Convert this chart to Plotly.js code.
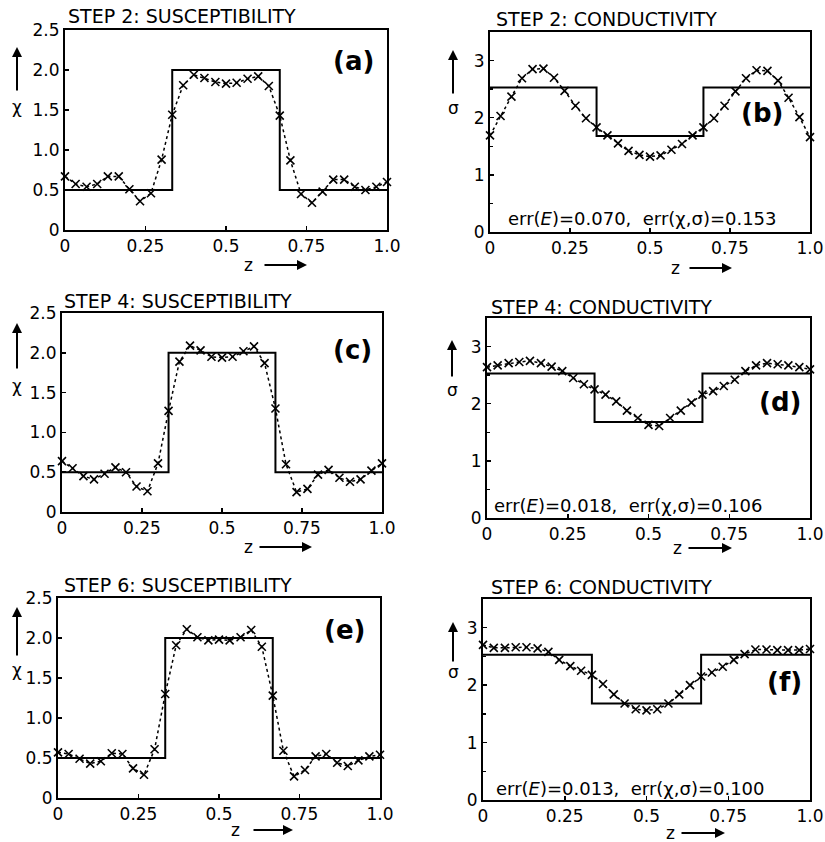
<!DOCTYPE html>
<html>
<head>
<meta charset="utf-8">
<script src="https://cdn.plot.ly/plotly-3.0.1.min.js"></script>
<style>html,body{margin:0;padding:0;background:#fff}</style>
</head>
<body>
<div id="chart" style="width:825px;height:842px"></div>
<script>
// ---- data ----
const z = [0, 0.033, 0.067, 0.1, 0.133, 0.167, 0.2, 0.233, 0.267, 0.3,
           0.333, 0.367, 0.4, 0.433, 0.467, 0.5, 0.533, 0.567, 0.6, 0.633,
           0.667, 0.7, 0.733, 0.767, 0.8, 0.833, 0.867, 0.9, 0.933, 0.967, 1];

const stepZ = [0, 0.333, 0.667, 1];
const chiTrue = [0.5, 2.0, 0.5, 0.5];
const sigmaTrue = [2.53, 1.68, 2.53, 2.53];

const chiStep2 = [0.67, 0.575, 0.54, 0.575, 0.67, 0.67, 0.51, 0.36, 0.46, 0.88,
                  1.44, 1.81, 1.94, 1.90, 1.85, 1.83, 1.84, 1.89, 1.92, 1.80,
                  1.43, 0.87, 0.45, 0.34, 0.48, 0.63, 0.63, 0.54, 0.50, 0.54, 0.60];
const sigmaStep2 = [1.69, 2.03, 2.37, 2.69, 2.85, 2.86, 2.70, 2.47, 2.21, 1.99,
                    1.83, 1.69, 1.55, 1.42, 1.35, 1.32, 1.34, 1.44, 1.54, 1.69,
                    1.83, 1.99, 2.21, 2.46, 2.69, 2.83, 2.82, 2.65, 2.35, 2.01, 1.66];
const chiStep4 = [0.64, 0.55, 0.45, 0.41, 0.48, 0.56, 0.50, 0.32, 0.26, 0.61,
                  1.27, 1.89, 2.09, 2.03, 1.95, 1.94, 1.95, 2.02, 2.08, 1.87,
                  1.30, 0.60, 0.25, 0.29, 0.47, 0.53, 0.43, 0.38, 0.41, 0.52, 0.61];
const sigmaStep4 = [2.64, 2.67, 2.71, 2.73, 2.75, 2.71, 2.65, 2.57, 2.45, 2.34,
                    2.25, 2.16, 2.04, 1.88, 1.75, 1.63, 1.61, 1.75, 1.88, 2.02,
                    2.16, 2.22, 2.31, 2.42, 2.57, 2.67, 2.71, 2.69, 2.67, 2.64, 2.60];
const chiStep6 = [0.57, 0.55, 0.49, 0.43, 0.46, 0.56, 0.55, 0.37, 0.29, 0.61,
                  1.30, 1.91, 2.11, 2.01, 1.97, 1.98, 1.97, 2.01, 2.10, 1.89,
                  1.28, 0.59, 0.27, 0.35, 0.52, 0.55, 0.44, 0.40, 0.47, 0.52, 0.54];
const sigmaStep6 = [2.70, 2.65, 2.65, 2.66, 2.66, 2.64, 2.58, 2.44, 2.33, 2.25,
                    2.18, 2.02, 1.84, 1.68, 1.58, 1.56, 1.58, 1.68, 1.84, 2.00,
                    2.15, 2.22, 2.32, 2.44, 2.54, 2.62, 2.62, 2.61, 2.61, 2.61, 2.63];

const zTickVals = [0, 0.25, 0.5, 0.75, 1];
const zTickText = ['0', '0.25', '0.5', '0.75', '1.0'];
const chiTickVals = [0, 0.5, 1, 1.5, 2, 2.5];
const chiTickText = ['0', '0.5', '1.0', '1.5', '2.0', '2.5'];
const sigmaTickVals = [0, 1, 2, 3];
const sigmaTickText = ['0', '1', '2', '3'];

const titles = ['STEP 2: SUSCEPTIBILITY', 'STEP 2: CONDUCTIVITY',
                'STEP 4: SUSCEPTIBILITY', 'STEP 4: CONDUCTIVITY',
                'STEP 6: SUSCEPTIBILITY', 'STEP 6: CONDUCTIVITY'];
const panelLabels = ['(a)', '(b)', '(c)', '(d)', '(e)', '(f)'];
const errTexts = ['', 'err(<i>E</i>)=0.070,  err(χ,σ)=0.153',
                  '', 'err(<i>E</i>)=0.018,  err(χ,σ)=0.106',
                  '', 'err(<i>E</i>)=0.013,  err(χ,σ)=0.100'];

// ---- layout helpers ----
const W = 825, H = 842;
const FONT = 'DejaVu Sans';
const px = x => x / W;
const py = y => 1 - y / H;

// panel boxes in pixels [left, right, top, bottom]
const boxes = [
  [65, 387, 30, 230], [490, 810, 32, 232],
  [62, 382, 313, 512], [487, 810, 318, 518],
  [58, 380, 598, 798], [483, 810, 599, 800]
];
const titlePos = [[66, 16], [494, 19], [62, 301], [489, 307], [62, 585], [489, 587]];
const labelPos = [[353, 61], [762, 113], [352, 350], [780, 402], [344, 630], [784, 682]];
const errPos = [null, [642, 219], null, [628, 505], null, [630, 788]];
const yArrow = [[17, 47, 92, 107], [453, 50, 95, 108], [17, 323, 370, 386],
                [452, 340, 378, 390], [17, 607, 657, 670], [453, 622, 663, 672]];
const xArrow = [[248, 263, 307, 265], [675, 688, 732, 268], [248, 258, 312, 547],
                [677, 687, 732, 548], [235, 252, 293, 830], [670, 680, 725, 833]];

const recon = [chiStep2, sigmaStep2, chiStep4, sigmaStep4, chiStep6, sigmaStep6];

const data = [];
const layout = {
  width: W, height: H,
  margin: {l: 0, r: 0, t: 0, b: 0},
  paper_bgcolor: 'white', plot_bgcolor: 'white',
  showlegend: false,
  font: {family: FONT, color: 'black', size: 16},
  annotations: []
};

for (let k = 0; k < 6; k++) {
  const isChi = (k % 2 === 0);
  const n = k + 1;
  const xa = 'x' + (n === 1 ? '' : n);
  const ya = 'y' + (n === 1 ? '' : n);
  const xk = 'xaxis' + (n === 1 ? '' : n);
  const yk = 'yaxis' + (n === 1 ? '' : n);
  const b = boxes[k];

  data.push({
    x: stepZ, y: isChi ? chiTrue : sigmaTrue, xaxis: xa, yaxis: ya,
    mode: 'lines', line: {shape: 'hv', color: 'black', width: 2},
    hoverinfo: 'skip', cliponaxis: false
  });
  data.push({
    x: z, y: recon[k], xaxis: xa, yaxis: ya,
    mode: 'lines+markers',
    line: {color: 'black', width: 1.5, dash: '3px,3px'},
    marker: {symbol: 'x-thin', size: 8, color: 'black', line: {color: 'black', width: 1.6}},
    cliponaxis: false
  });

  layout[xk] = {
    domain: [px(b[0]), px(b[1])], anchor: ya, range: [0, 1],
    tickvals: zTickVals, ticktext: zTickText, ticks: 'inside', ticklen: 4,
    tickwidth: 1.5, tickcolor: 'black',
    showline: true, mirror: true, linecolor: 'black', linewidth: 2,
    showgrid: false, zeroline: false, fixedrange: true,
    tickfont: {family: FONT, size: 17, color: 'black'}
  };
  layout[yk] = {
    domain: [py(b[3]), py(b[2])], anchor: xa,
    range: isChi ? [0, 2.5] : [0, 3.5],
    tickvals: isChi ? chiTickVals : sigmaTickVals,
    ticktext: isChi ? chiTickText : sigmaTickText,
    ticks: 'inside', ticklen: 4, tickwidth: 1.5, tickcolor: 'black',
    minor: isChi ? undefined : {dtick: 0.5, ticks: 'inside', ticklen: 3, tickcolor: 'black'},
    showline: true, mirror: true, linecolor: 'black', linewidth: 2,
    showgrid: false, zeroline: false, fixedrange: true,
    tickfont: {family: FONT, size: 17, color: 'black'}
  };

  // panel title
  layout.annotations.push({
    xref: 'paper', yref: 'paper', x: px(titlePos[k][0]), y: py(titlePos[k][1]),
    xanchor: 'left', yanchor: 'middle', showarrow: false,
    text: titles[k], font: {family: FONT, size: 19, color: 'black'}
  });
  // panel label
  layout.annotations.push({
    xref: 'paper', yref: 'paper', x: px(labelPos[k][0]), y: py(labelPos[k][1]),
    xanchor: 'center', yanchor: 'middle', showarrow: false,
    text: '<b>' + panelLabels[k] + '</b>', font: {family: FONT, size: 26, color: 'black'}
  });
  // error text
  if (errPos[k]) {
    layout.annotations.push({
      xref: 'paper', yref: 'paper', x: px(errPos[k][0]), y: py(errPos[k][1]),
      xanchor: 'center', yanchor: 'middle', showarrow: false,
      text: errTexts[k], font: {family: FONT, size: 18, color: 'black'}
    });
  }
  // y axis arrow + symbol
  const ya_ = yArrow[k];
  layout.annotations.push({
    xref: 'paper', yref: 'paper', x: px(ya_[0]), y: py(ya_[1]),
    ax: 0, ay: ya_[2] - ya_[1], text: '', showarrow: true,
    arrowhead: 2, arrowsize: 1, arrowwidth: 2, arrowcolor: 'black'
  });
  layout.annotations.push({
    xref: 'paper', yref: 'paper', x: px(ya_[0]), y: py(ya_[3]),
    xanchor: 'center', yanchor: 'middle', showarrow: false,
    text: isChi ? 'χ' : 'σ', font: {family: FONT, size: 17, color: 'black'}
  });
  // x axis arrow + symbol
  const xa_ = xArrow[k];
  layout.annotations.push({
    xref: 'paper', yref: 'paper', x: px(xa_[2]), y: py(xa_[3]),
    ax: xa_[1] - xa_[2], ay: 0, text: '', showarrow: true,
    arrowhead: 2, arrowsize: 1, arrowwidth: 2, arrowcolor: 'black'
  });
  layout.annotations.push({
    xref: 'paper', yref: 'paper', x: px(xa_[0]), y: py(xa_[3]),
    xanchor: 'center', yanchor: 'middle', showarrow: false,
    text: 'z', font: {family: FONT, size: 17, color: 'black'}
  });
}

Plotly.newPlot('chart', data, layout, {displayModeBar: false, staticPlot: true});
</script>
</body>
</html>
